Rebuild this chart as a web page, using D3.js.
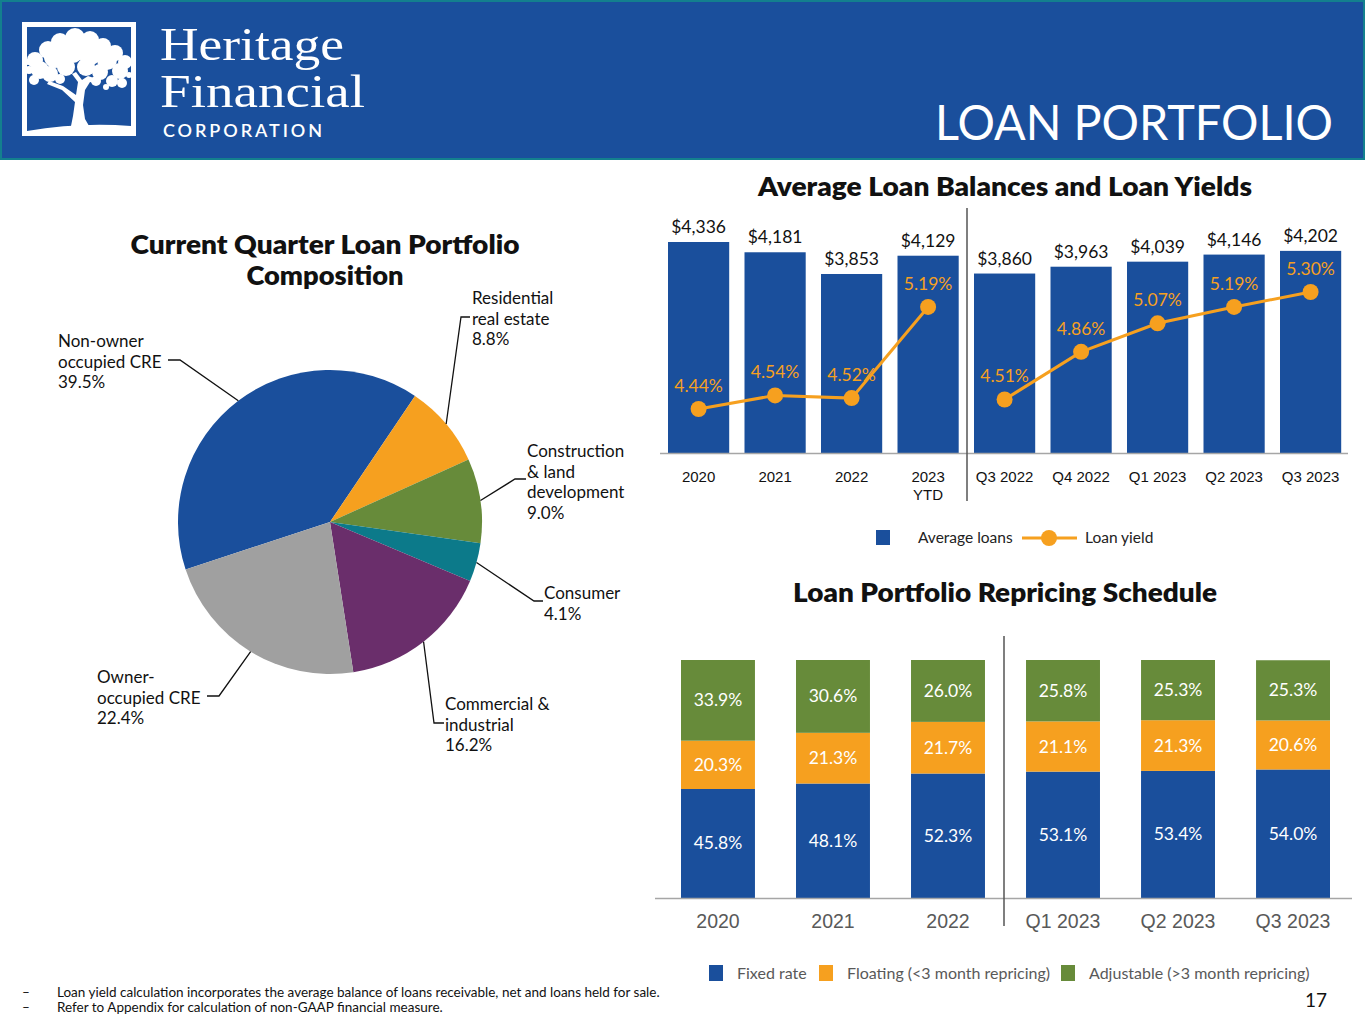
<!DOCTYPE html>
<html lang="en">
<head>
    <meta charset="UTF-8">
    <title>Loan Portfolio</title>
    <script src="https://cdnjs.cloudflare.com/ajax/libs/d3/7.8.2/d3.min.js"></script>
    <style>
        body { margin: 0; background: #fff; }
        svg { display: block; font-family: Lato, "Open Sans", sans-serif; }
    </style>
</head>
<body>
    <div id="chart"></div>

    <script>
        // ---- data ----
        const balanceCats = ["2020", "2021", "2022", "2023 YTD", "Q3 2022", "Q4 2022", "Q1 2023", "Q2 2023", "Q3 2023"];
        const avgLoans = [4336, 4181, 3853, 4129, 3860, 3963, 4039, 4146, 4202];
        const loanYield = [4.44, 4.54, 4.52, 5.19, 4.51, 4.86, 5.07, 5.19, 5.30];
        const periodType = ["year", "year", "year", "year", "quarter", "quarter", "quarter", "quarter", "quarter"];

        const pieLabels = [
            ["Non-owner", "occupied CRE"],
            ["Residential", "real estate"],
            ["Construction", "& land", "development"],
            ["Consumer"],
            ["Commercial &", "industrial"],
            ["Owner-", "occupied CRE"]
        ];
        const pieValues = [39.5, 8.8, 9.0, 4.1, 16.2, 22.4];

        const repCats = ["2020", "2021", "2022", "Q1 2023", "Q2 2023", "Q3 2023"];
        const fixedRate = [45.8, 48.1, 52.3, 53.1, 53.4, 54.0];
        const floating = [20.3, 21.3, 21.7, 21.1, 21.3, 20.6];
        const adjustable = [33.9, 30.6, 26.0, 25.8, 25.3, 25.3];
        const repSeries = ["Fixed rate", "Floating (<3 month repricing)", "Adjustable (>3 month repricing)"];

        const footnotes = [
            "Loan yield calculation incorporates the average balance of loans receivable, net and loans held for sale.",
            "Refer to Appendix for calculation of non-GAAP financial measure."
        ];

        // ---- style ----
        const BLUE = "#1a4f9c", ORANGE = "#f6a01f", GREEN = "#678b3a",
              TEAL = "#0c7a8a", PURPLE = "#6a2e6b", GRAY = "#a0a0a0";
        const pieColors = [BLUE, ORANGE, GREEN, TEAL, PURPLE, GRAY];

        const W = 1365, H = 1024;
        const svg = d3.select("#chart").append("svg")
            .attr("width", W).attr("height", H);

        function title(x, y, len, s) {
            svg.append("text").attr("x", x).attr("y", y).attr("text-anchor", "middle")
                .attr("font-size", 26).attr("font-weight", 800).attr("fill", "#111")
                .attr("textLength", len).attr("lengthAdjust", "spacingAndGlyphs")
                .text(s);
        }

        // ---- header ----
        svg.append("rect").attr("x", 1).attr("y", 1).attr("width", W - 2).attr("height", 158)
            .attr("fill", BLUE).attr("stroke", "#13808e").attr("stroke-width", 2);

        const logo = svg.append("g");
        logo.append("rect").attr("x", 24.5).attr("y", 24.5).attr("width", 109).attr("height", 109)
            .attr("fill", "none").attr("stroke", "#fff").attr("stroke-width", 5);
        const canopy = [[60,42,9],[75,38,10],[90,40,9],[103,46,8],[48,50,9],[115,53,8],[125,62,7],
                        [35,60,8],[29,70,4],[40,70,9],[55,57,11],[72,51,12],[90,53,12],[107,60,10],
                        [120,71,8],[129,75,3],[50,74,8],[66,67,9],[86,67,9],[100,72,8],[112,81,6],
                        [122,83,5],[34,80,5],[60,79,5],[96,81,5],[106,87,3],[28,62,3]];
        logo.selectAll("circle.leaf").data(canopy).join("circle")
            .attr("cx", d => d[0]).attr("cy", d => d[1]).attr("r", d => d[2]).attr("fill", "#fff");
        logo.append("path")
            .attr("d", "M70,131 L73,116 L75,102 L62,90 L47,84 L49,81 L63,86 L76,95 L78,82 L72,74 L76,72 L82,80 L88,76 L100,80 L99,84 L90,82 L85,90 L83,105 L85,119 L92,131 Z")
            .attr("fill", "#fff");
        logo.append("path").attr("d", "M27,131 Q80,122 131,126 L131,131 L27,131 Z").attr("fill", "#fff");

        svg.append("text").attr("x", 160).attr("y", 60).attr("fill", "#fff")
            .attr("font-family", "Liberation Serif, serif").attr("font-size", 46)
            .attr("textLength", 184).attr("lengthAdjust", "spacingAndGlyphs").text("Heritage");
        svg.append("text").attr("x", 160).attr("y", 107).attr("fill", "#fff")
            .attr("font-family", "Liberation Serif, serif").attr("font-size", 46)
            .attr("textLength", 205).attr("lengthAdjust", "spacingAndGlyphs").text("Financial");
        svg.append("text").attr("x", 163).attr("y", 137).attr("fill", "#fff")
            .attr("font-size", 18).attr("font-weight", 600)
            .attr("textLength", 159).text("CORPORATION");
        svg.append("text").attr("x", 1333).attr("y", 140).attr("fill", "#fff")
            .attr("text-anchor", "end").attr("font-size", 48)
            .attr("textLength", 398).attr("lengthAdjust", "spacingAndGlyphs")
            .text("LOAN PORTFOLIO");

        // ---- pie ----
        title(325, 254, 389, "Current Quarter Loan Portfolio");
        title(325, 285, 157, "Composition");

        const cx = 330, cy = 522, R = 152;
        const startA = -108.2 * Math.PI / 180;
        const pie = d3.pie().sort(null).startAngle(startA).endAngle(startA + 2 * Math.PI);
        const arcs = pie(pieValues);
        const arc = d3.arc().innerRadius(0).outerRadius(R);
        const pieG = svg.append("g").attr("transform", `translate(${cx},${cy})`);
        pieG.selectAll("path").data(arcs).join("path")
            .attr("d", arc).attr("fill", (d, i) => pieColors[i]);

        // label layout: text x, first baseline, elbow point, end of horizontal stub
        const pieLayout = [
            { x: 58, y: 347, elbow: [180, 360], end: 168 },
            { x: 472, y: 304, elbow: [461, 317], end: 470 },
            { x: 527, y: 457, elbow: [515, 479], end: 526 },
            { x: 544, y: 599, elbow: [534, 601], end: 543 },
            { x: 445, y: 710, elbow: [434, 723], end: 444 },
            { x: 97, y: 683, elbow: [219, 696], end: 207 }
        ];
        arcs.forEach((a, i) => {
            const L = pieLayout[i];
            const mid = (a.startAngle + a.endAngle) / 2;
            const px = cx + R * Math.sin(mid), py = cy - R * Math.cos(mid);
            svg.append("path")
                .attr("d", `M${px},${py} L${L.elbow[0]},${L.elbow[1]} L${L.end},${L.elbow[1]}`)
                .attr("fill", "none").attr("stroke", "#111").attr("stroke-width", 1.3);
            const t = svg.append("text").attr("x", L.x).attr("y", L.y)
                .attr("font-size", 17).attr("fill", "#111");
            const lines = pieLabels[i].concat([pieValues[i].toFixed(1) + "%"]);
            lines.forEach((s, j) => {
                t.append("tspan").attr("x", L.x).attr("dy", j === 0 ? 0 : 20.5).text(s);
            });
        });

        // ---- average loan balances ----
        title(1005, 196, 494, "Average Loan Balances and Loan Yields");

        const x1 = d3.scaleBand().domain(balanceCats).range([652.7, 1356.5])
            .paddingInner(0.2).paddingOuter(0.2);
        const yBal = d3.scaleLinear().domain([1151, 4336]).range([453, 242]);
        const yYield = d3.scaleLinear().domain([4.44, 5.30]).range([409, 292]);

        svg.append("g").selectAll("rect").data(avgLoans).join("rect")
            .attr("x", (d, i) => x1(balanceCats[i]))
            .attr("y", d => yBal(d))
            .attr("width", x1.bandwidth())
            .attr("height", d => yBal.range()[0] - yBal(d))
            .attr("fill", BLUE);

        svg.append("g").selectAll("text").data(avgLoans).join("text")
            .attr("x", (d, i) => x1(balanceCats[i]) + x1.bandwidth() / 2)
            .attr("y", d => yBal(d) - 9)
            .attr("text-anchor", "middle").attr("font-size", 17.5).attr("fill", "#111")
            .text(d => "$" + d3.format(",")(d));

        svg.append("line").attr("x1", 660).attr("x2", 1348).attr("y1", 453.5).attr("y2", 453.5)
            .attr("stroke", "#a6a6a6").attr("stroke-width", 1.5);
        svg.append("line").attr("x1", 967).attr("x2", 967).attr("y1", 208).attr("y2", 501)
            .attr("stroke", "#555").attr("stroke-width", 1.5);

        const xAxis1 = svg.append("g").attr("transform", "translate(0,453)")
            .call(d3.axisBottom(x1).tickSize(0).tickPadding(0));
        xAxis1.select(".domain").remove();
        xAxis1.selectAll("text").attr("font-size", 15).attr("font-family", null)
            .attr("fill", "#111").attr("dy", 0).attr("y", 29)
            .each(function(d) {
                const parts = d.split(" ");
                const el = d3.select(this);
                if (d.endsWith("YTD")) {
                    el.text(null);
                    el.append("tspan").attr("x", 0).attr("dy", 0).text(parts[0]);
                    el.append("tspan").attr("x", 0).attr("dy", 18).text(parts[1]);
                }
            });

        const yieldLine = d3.line()
            .x(d => x1(balanceCats[d]) + x1.bandwidth() / 2)
            .y(d => yYield(loanYield[d]));
        ["year", "quarter"].forEach(p => {
            const idx = d3.range(balanceCats.length).filter(i => periodType[i] === p);
            svg.append("path").attr("d", yieldLine(idx))
                .attr("fill", "none").attr("stroke", ORANGE).attr("stroke-width", 3);
        });
        svg.append("g").selectAll("circle").data(loanYield).join("circle")
            .attr("cx", (d, i) => x1(balanceCats[i]) + x1.bandwidth() / 2)
            .attr("cy", d => yYield(d)).attr("r", 8).attr("fill", ORANGE);
        svg.append("g").selectAll("text").data(loanYield).join("text")
            .attr("x", (d, i) => x1(balanceCats[i]) + x1.bandwidth() / 2)
            .attr("y", d => yYield(d) - 17)
            .attr("text-anchor", "middle").attr("font-size", 17.5).attr("fill", ORANGE)
            .text(d => d.toFixed(2) + "%");

        // legend
        svg.append("rect").attr("x", 876).attr("y", 530).attr("width", 14).attr("height", 15).attr("fill", BLUE);
        svg.append("text").attr("x", 918).attr("y", 543).attr("font-size", 15.5).attr("fill", "#222").text("Average loans");
        svg.append("line").attr("x1", 1022).attr("x2", 1077).attr("y1", 538).attr("y2", 538)
            .attr("stroke", ORANGE).attr("stroke-width", 3);
        svg.append("circle").attr("cx", 1049).attr("cy", 538).attr("r", 8).attr("fill", ORANGE);
        svg.append("text").attr("x", 1085).attr("y", 543).attr("font-size", 15.5).attr("fill", "#222").text("Loan yield");

        // ---- repricing schedule ----
        title(1005, 602, 424, "Loan Portfolio Repricing Schedule");

        const x2 = d3.scaleBand().domain(repCats).range([658, 1353])
            .paddingInner(0.357).paddingOuter(0.2);
        const y2 = d3.scaleLinear().domain([0, 100]).range([898, 660]);
        const repData = repCats.map((c, i) => ({ cat: c, fixed: fixedRate[i], floating: floating[i], adjustable: adjustable[i] }));
        const stack = d3.stack().keys(["fixed", "floating", "adjustable"])(repData);
        const repColors = [BLUE, ORANGE, GREEN];

        stack.forEach((layer, k) => {
            const g = svg.append("g");
            g.selectAll("rect").data(layer).join("rect")
                .attr("x", d => x2(d.data.cat))
                .attr("y", d => y2(Math.min(d[1], 100)))
                .attr("width", x2.bandwidth())
                .attr("height", d => y2(d[0]) - y2(Math.min(d[1], 100)))
                .attr("fill", repColors[k]);
            g.selectAll("text").data(layer).join("text")
                .attr("x", d => x2(d.data.cat) + x2.bandwidth() / 2)
                .attr("y", d => (y2(d[0]) + y2(Math.min(d[1], 100))) / 2 + 6)
                .attr("text-anchor", "middle").attr("font-size", 17.5).attr("fill", "#fff")
                .text(d => (d[1] - d[0]).toFixed(1) + "%");
        });

        svg.append("line").attr("x1", 655).attr("x2", 1352).attr("y1", 898.5).attr("y2", 898.5)
            .attr("stroke", "#a6a6a6").attr("stroke-width", 1.5);
        svg.append("line").attr("x1", 1004).attr("x2", 1004).attr("y1", 636).attr("y2", 926)
            .attr("stroke", "#555").attr("stroke-width", 1.5);

        const xAxis2 = svg.append("g").attr("transform", "translate(0,898)")
            .call(d3.axisBottom(x2).tickSize(0).tickPadding(0));
        xAxis2.select(".domain").remove();
        xAxis2.selectAll("text").attr("font-size", 19.5).attr("font-family", null)
            .attr("fill", "#595959").attr("dy", 0).attr("y", 30);

        // legend
        const legX = [709, 819, 1061];
        repSeries.forEach((s, i) => {
            svg.append("rect").attr("x", legX[i]).attr("y", 965).attr("width", 14).attr("height", 16).attr("fill", repColors[i]);
            svg.append("text").attr("x", legX[i] + 28).attr("y", 979).attr("font-size", 16)
                .attr("fill", "#595959").text(s);
        });

        // ---- footnotes ----
        footnotes.forEach((f, i) => {
            svg.append("text").attr("x", 22).attr("y", 997 + i * 15).attr("font-size", 13.5).attr("fill", "#111").text("–");
            svg.append("text").attr("x", 57).attr("y", 997 + i * 15).attr("font-size", 13.5).attr("fill", "#111").text(f);
        });
        svg.append("text").attr("x", 1316).attr("y", 1007).attr("text-anchor", "middle")
            .attr("font-size", 19).attr("fill", "#111").text("17");
    </script>
</body>
</html>
